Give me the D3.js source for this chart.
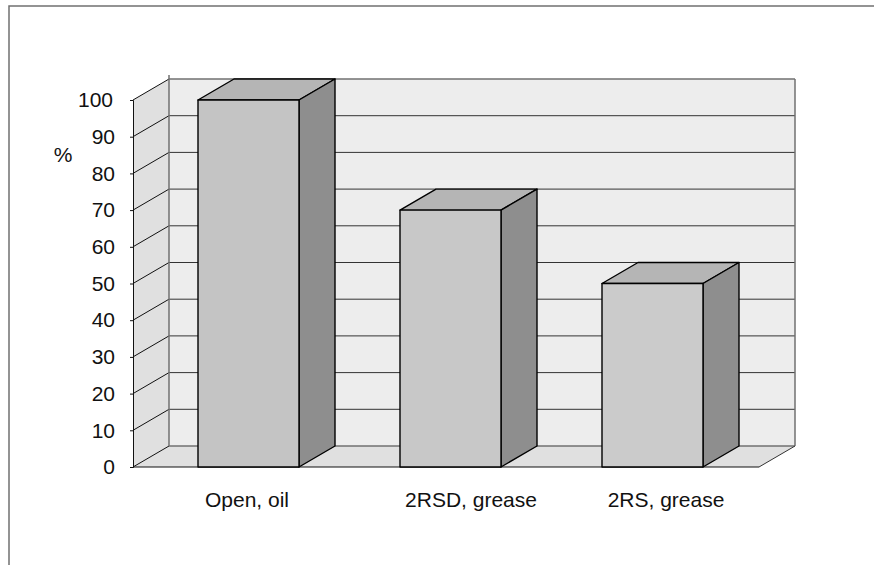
<!DOCTYPE html>
<html>
<head>
<meta charset="utf-8">
<script src="https://cdn.jsdelivr.net/npm/d3@7"></script>
<style>
    html, body { margin: 0; padding: 0; background: #fff; }
    svg { display: block; }
    text { font-family: "Liberation Sans", Arial, sans-serif; fill: #111; }
</style>
</head>
<body>
<svg id="chart" width="874" height="565"></svg>
<script>
const categories = ["Open, oil", "2RSD, grease", "2RS, grease"];
const values = [100, 70, 50];
const tickValues = [0, 10, 20, 30, 40, 50, 60, 70, 80, 90, 100];
const frontColors = ["#c4c4c4", "#c8c8c8", "#cbcbcb"];

const svg = d3.select("#chart");

// front plane of the box, the back wall is shifted by depth
const left = 133, right = 759, bottom = 467, top_ = 100;
const depthX = 36, depthY = -21;
const fontSize = 21;

const y = d3.scaleLinear().domain([0, 100]).range([bottom, top_]);
const x = d3.scaleBand()
    .domain(categories)
    .range([147.5, 753.5])
    .paddingInner(0.5)
    .paddingOuter(0.25);

const poly = function (pts) {
    return pts.map(function (p) { return p.join(","); }).join(" ");
};

// figure frame, only top and left edges show
svg.append("path")
    .attr("d", "M9,565V6H874")
    .attr("fill", "none")
    .attr("stroke", "#707070")
    .attr("stroke-width", 1.5);

// walls
svg.append("rect")
    .attr("x", left + depthX)
    .attr("y", y(100) + depthY)
    .attr("width", right - left)
    .attr("height", y(0) - y(100))
    .attr("fill", "#ededed");

svg.append("polygon")
    .attr("points", poly([
        [left, y(0)], [left, y(100)],
        [left + depthX, y(100) + depthY], [left + depthX, y(0) + depthY]
    ]))
    .attr("fill", "#e0e0e0");

svg.append("polygon")
    .attr("points", poly([
        [left, y(0)], [right, y(0)],
        [right + depthX, y(0) + depthY], [left + depthX, y(0) + depthY]
    ]))
    .attr("fill", "#e0e0e0");

// grid lines on the back wall and along the side wall
tickValues.forEach(function (t) {
    const edge = t === 0 || t === 100;
    svg.append("line")
        .attr("x1", left + depthX)
        .attr("x2", right + depthX)
        .attr("y1", y(t) + depthY)
        .attr("y2", y(t) + depthY)
        .attr("stroke", edge ? "#707070" : "#333")
        .attr("stroke-width", edge ? 1.4 : 1);
    svg.append("line")
        .attr("x1", left)
        .attr("x2", left + depthX)
        .attr("y1", y(t))
        .attr("y2", y(t) + depthY)
        .attr("stroke", "#111")
        .attr("stroke-width", 1);
});

// wall edges
svg.append("line")
    .attr("x1", left + depthX).attr("x2", left + depthX)
    .attr("y1", y(100) + depthY - 4).attr("y2", y(0) + depthY)
    .attr("stroke", "#707070")
    .attr("stroke-width", 1.5);
svg.append("line")
    .attr("x1", right + depthX).attr("x2", right + depthX)
    .attr("y1", y(100) + depthY).attr("y2", y(0) + depthY)
    .attr("stroke", "#707070")
    .attr("stroke-width", 1.5);
svg.append("line")
    .attr("x1", right).attr("x2", right + depthX)
    .attr("y1", y(0)).attr("y2", y(0) + depthY)
    .attr("stroke", "#333");

// y axis
const yAxis = svg.append("g")
    .attr("transform", "translate(" + left + ",0)")
    .call(d3.axisLeft(y).tickValues(tickValues).tickSize(3).tickPadding(15));
yAxis.select(".domain").attr("stroke", "#111");
yAxis.selectAll("line").attr("stroke", "#111");
yAxis.selectAll("text")
    .attr("font-size", fontSize)
    .attr("dx", function (d) { return d === 100 ? -2 : 0; });

// floor front edge
svg.append("line")
    .attr("x1", left).attr("x2", right)
    .attr("y1", y(0)).attr("y2", y(0))
    .attr("stroke", "#111");

// bars
const bars = svg.append("g")
    .selectAll("g")
    .data(categories)
    .enter()
    .append("g");

bars.append("polygon")
    .attr("points", function (d, i) {
        const x0 = x(d), x1 = x0 + x.bandwidth(), yv = y(values[i]);
        return poly([[x0, yv], [x0 + depthX, yv + depthY], [x1 + depthX, yv + depthY], [x1, yv]]);
    })
    .attr("fill", "#b5b5b5");

bars.append("polygon")
    .attr("points", function (d, i) {
        const x1 = x(d) + x.bandwidth(), yv = y(values[i]);
        return poly([[x1, yv], [x1 + depthX, yv + depthY], [x1 + depthX, y(0) + depthY], [x1, y(0)]]);
    })
    .attr("fill", "#8e8e8e");

bars.append("rect")
    .attr("x", function (d) { return x(d); })
    .attr("y", function (d, i) { return y(values[i]); })
    .attr("width", x.bandwidth())
    .attr("height", function (d, i) { return y(0) - y(values[i]); })
    .attr("fill", function (d, i) { return frontColors[i]; });

bars.selectAll("polygon, rect")
    .attr("stroke", "#000")
    .attr("stroke-width", 1.4)
    .attr("stroke-linejoin", "round");

// category labels, the original sits them off the bar centres
const labelShift = [-1.5, 20.5, 13.5];
const xAxis = svg.append("g")
    .attr("transform", "translate(0," + y(0) + ")")
    .call(d3.axisBottom(x).tickSize(0).tickPadding(25));
xAxis.select(".domain").remove();
xAxis.selectAll("text")
    .attr("font-size", fontSize)
    .attr("dx", function (d, i) { return labelShift[i]; });

// unit label
svg.append("text")
    .attr("x", 63)
    .attr("y", 162)
    .attr("text-anchor", "middle")
    .attr("font-size", fontSize)
    .text("%");
</script>
</body>
</html>
